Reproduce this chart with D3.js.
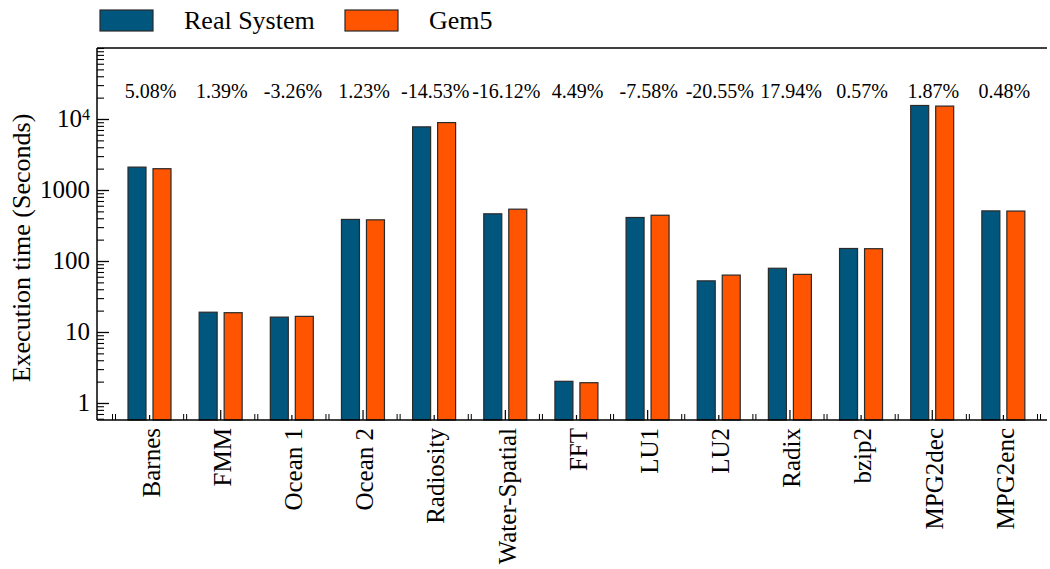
<!DOCTYPE html>
<html>
<head>
<meta charset="utf-8">
<script src="https://cdn.jsdelivr.net/npm/d3@7"></script>
<style>
  body { margin: 0; background: #fff; }
  text { font-family: "Liberation Serif", "Times New Roman", serif; }
</style>
</head>
<body>
<div id="chart"></div>
<script>
// chart data
const benchmarks = ['Barnes', 'FMM', 'Ocean 1', 'Ocean 2', 'Radiosity', 'Water-Spatial', 'FFT',
    'LU1', 'LU2', 'Radix', 'bzip2', 'MPG2dec', 'MPG2enc'];
const realSystem = [2100, 19.0, 16.2, 385, 7750, 462, 2.02, 410, 52.5, 79, 150, 15500, 508];
const gem5 = [1995, 18.7, 16.6, 380, 8900, 537, 1.93, 441, 63.3, 64.8, 149, 15200, 505];
const errorLabels = ['5.08%', '1.39%', '-3.26%', '1.23%', '-14.53%', '-16.12%', '4.49%',
    '-7.58%', '-20.55%', '17.94%', '0.57%', '1.87%', '0.48%'];
const seriesNames = ['Real System', 'Gem5'];
const yMajorTicks = [1, 10, 100, 1000, 10000];

const size = {width: 1050, height: 569};
const plot = {left: 97, right: 1047, top: 48, bottom: 420};
const colors = {'Real System': '#01567e', 'Gem5': '#ff5400'};
const serif = '"Liberation Serif", "Times New Roman", serif';

const svg = d3.select('#chart').append('svg')
    .attr('width', size.width)
    .attr('height', size.height)
    .attr('font-family', serif);

// scales
const y = d3.scaleLog()
    .domain([0.576, 1e5])
    .range([plot.bottom, plot.top]);

const x = d3.scaleBand()
    .domain(benchmarks)
    .range([114, 1039])
    .paddingInner(0);

const xSub = d3.scaleBand()
    .domain(seriesNames)
    .range([14, 57])
    .paddingInner(0.28);

const rows = benchmarks.map((b, i) => ({
    name: b,
    idx: i,
    values: [
        {series: 'Real System', value: realSystem[i]},
        {series: 'Gem5', value: gem5[i]}
    ],
    label: errorLabels[i]
}));

// bars
const groups = svg.append('g').attr('class', 'bars')
    .selectAll('g')
    .data(rows)
    .join('g')
    .attr('transform', d => 'translate(' + x(d.name) + ',0)');

groups.selectAll('rect')
    .data(d => d.values)
    .join('rect')
    .attr('x', d => xSub(d.series))
    .attr('y', d => y(d.value))
    .attr('width', xSub.bandwidth())
    .attr('height', d => plot.bottom - y(d.value))
    .attr('fill', d => colors[d.series])
    .attr('stroke', '#2a2a2a')
    .attr('stroke-width', 1.2);

// error labels above the bars
svg.append('g').selectAll('text')
    .data(rows)
    .join('text')
    .attr('x', d => x(d.name) + x.bandwidth() / 2 + 1)
    .attr('y', 98)
    .attr('text-anchor', 'middle')
    .attr('font-family', serif)
    .attr('font-size', 20)
    .text(d => d.label);

// y axis: major ticks pointing inward
const yAxis = svg.append('g')
    .attr('transform', 'translate(' + plot.left + ',0)')
    .call(d3.axisLeft(y)
        .tickValues(yMajorTicks)
        .tickSize(-12)
        .tickPadding(7)
        .tickFormat(d => d >= 10000 ? '' : d3.format('d')(d)));
yAxis.attr('font-family', serif);
yAxis.select('.domain').remove();
yAxis.selectAll('.tick line').attr('stroke', '#000').attr('stroke-width', 1.3);
yAxis.selectAll('.tick text')
    .attr('font-size', 25)
    .attr('fill', '#000')
    .attr('font-family', serif);
yAxis.selectAll('.tick text')
    .filter(d => d >= 10000)
    .each(function (d) {
        const t = d3.select(this);
        t.append('tspan').text('10');
        t.append('tspan').attr('dy', '-0.45em').attr('font-size', 16).text(Math.round(Math.log10(d)));
    });

// y axis: minor ticks
const minorTicks = y.ticks().filter(v => !yMajorTicks.includes(v));
const yMinor = svg.append('g')
    .attr('transform', 'translate(' + plot.left + ',0)')
    .call(d3.axisLeft(y)
        .tickValues(minorTicks)
        .tickSize(-7)
        .tickFormat(''));
yMinor.select('.domain').remove();
yMinor.selectAll('.tick line').attr('stroke', '#000').attr('stroke-width', 1.1);

// frame lines
svg.append('line')
    .attr('x1', plot.left).attr('x2', plot.left)
    .attr('y1', plot.top).attr('y2', plot.bottom)
    .attr('stroke', '#000').attr('stroke-width', 1.5);
svg.append('line')
    .attr('x1', plot.left).attr('x2', plot.right)
    .attr('y1', plot.top).attr('y2', plot.top)
    .attr('stroke', '#000').attr('stroke-width', 1.5);
svg.append('line')
    .attr('x1', plot.left).attr('x2', plot.right)
    .attr('y1', plot.bottom).attr('y2', plot.bottom)
    .attr('stroke', '#000').attr('stroke-width', 1.5);

// x axis: category labels and small center ticks
const xAxis = svg.append('g')
    .attr('transform', 'translate(0,' + plot.bottom + ')')
    .call(d3.axisBottom(x).tickSize(0).tickPadding(0));
xAxis.attr('font-family', serif);
xAxis.select('.domain').remove();
xAxis.selectAll('.tick line')
    .attr('y2', (d, i) => i % 2 === 1 ? -10 : -5)
    .attr('stroke', '#000')
    .attr('stroke-width', 1.2);
xAxis.selectAll('.tick text')
    .attr('font-size', 25)
    .attr('fill', '#000')
    .attr('font-family', serif)
    .attr('text-anchor', 'end')
    .attr('transform', 'translate(2,8) rotate(-90)')
    .attr('x', 0)
    .attr('y', 0)
    .attr('dy', '0.33em');

// x axis: double ticks on group boundaries
const boundaries = benchmarks.map(b => x(b)).concat([x(benchmarks[benchmarks.length - 1]) + x.bandwidth()]);
const bTicks = svg.append('g').selectAll('g')
    .data(boundaries)
    .join('g')
    .attr('transform', d => 'translate(' + d + ',' + plot.bottom + ')');
[-1.5, 1.5].forEach(off => {
    bTicks.append('line')
        .attr('x1', off).attr('x2', off)
        .attr('y1', 0).attr('y2', -6)
        .attr('stroke', '#000')
        .attr('stroke-width', 1);
});

// y axis title
svg.append('text')
    .attr('transform', 'translate(30,' + ((plot.top + plot.bottom) / 2 + 14) + ') rotate(-90)')
    .attr('text-anchor', 'middle')
    .attr('font-family', serif)
    .attr('font-size', 26)
    .text('Execution time (Seconds)');

// legend
const legend = svg.append('g').selectAll('g')
    .data(seriesNames)
    .join('g')
    .attr('transform', (d, i) => 'translate(' + (i === 0 ? 100 : 345) + ',10)');
legend.append('rect')
    .attr('width', 53)
    .attr('height', 21)
    .attr('fill', d => colors[d])
    .attr('stroke', '#2a2a2a')
    .attr('stroke-width', 1.2);
legend.append('text')
    .attr('x', 84)
    .attr('y', 19)
    .attr('font-family', serif)
    .attr('font-size', 26)
    .text(d => d);
</script>
</body>
</html>
